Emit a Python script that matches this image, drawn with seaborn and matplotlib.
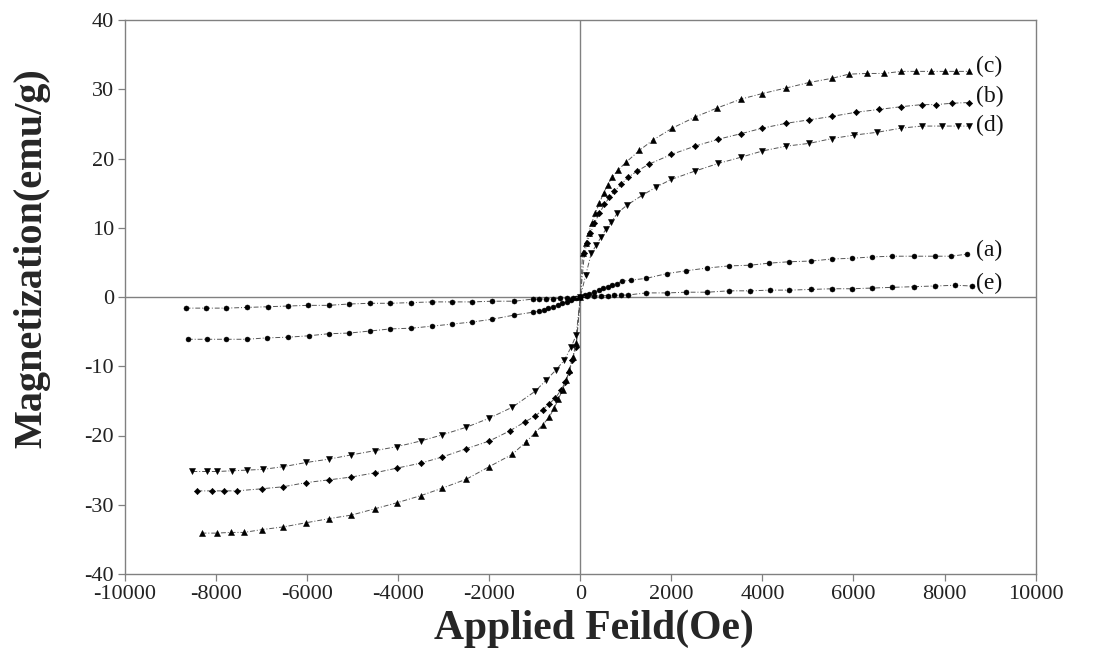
import matplotlib
matplotlib.use('Agg')
import matplotlib.pyplot as plt
import seaborn as sns
import numpy as np
import pandas as pd

# M-H loops, values (field in Oe, magnetization in emu/g)
h_c = [-8320, -7990, -7680, -7390, -7000, -6520, -6020, -5510, -5030, -4520, -4020,
       -3510, -3030, -2500, -2000, -1490, -1190, -990, -830, -680, -570, -480, -390,
       -310, -240, -170, -90, 0, 50, 130, 180, 250, 330, 420, 510, 600, 700, 820, 1010,
       1300, 1600, 2020, 2520, 3000, 3530, 4000, 4520, 5030, 5530, 5900, 6300, 6670,
       7050, 7380, 7700, 8000, 8260, 8540]
m_c = [-34.1, -34.1, -34.0, -34.0, -33.6, -33.2, -32.6, -32.0, -31.5, -30.6, -29.7,
       -28.7, -27.6, -26.3, -24.5, -22.7, -20.9, -19.6, -18.5, -17.3, -16.0, -14.7, -13.4,
       -12.0, -10.5, -8.7, -6.7, 0.0, 6.3, 7.8, 9.2, 10.7, 12.1, 13.6, 15.0, 16.2, 17.3, 18.3, 19.5,
       21.2, 22.7, 24.4, 26.0, 27.3, 28.6, 29.4, 30.2, 31.0, 31.6, 32.2, 32.3, 32.3,
       32.6, 32.6, 32.6, 32.6, 32.6, 32.6]

h_b = [-8410, -8080, -7820, -7550, -7000, -6520, -6020, -5510, -5030, -4520, -4020,
       -3510, -3030, -2500, -2000, -1540, -1210, -990, -830, -680, -550, -420, -330,
       -240, -180, -90, 0, 90, 150, 220, 310, 420, 530, 640, 750, 900, 1050, 1250, 1510,
       2000, 2520, 3030, 3530, 4000, 4520, 5030, 5530, 6060, 6560, 7050, 7500, 7810,
       8170, 8540]
m_b = [-28.0, -28.0, -28.0, -28.0, -27.7, -27.4, -26.8, -26.4, -26.0, -25.4, -24.7,
       -24.0, -23.1, -21.9, -20.8, -19.3, -18.0, -17.2, -16.3, -15.4, -14.6, -13.4, -12.3,
       -10.8, -9.1, -7.2, 0.0, 6.3, 7.8, 9.2, 10.7, 12.1, 13.4, 14.4, 15.3, 16.3, 17.3, 18.2, 19.2,
       20.6, 21.8, 22.8, 23.6, 24.4, 25.1, 25.6, 26.1, 26.7, 27.1, 27.5, 27.8, 27.8,
       28.0, 28.1]

h_d = [-8520, -8210, -7970, -7660, -7330, -6980, -6520, -6020, -5510, -5030, -4520,
       -4020, -3510, -3030, -2500, -2000, -1490, -990, -750, -530, -350, -200, -90, 0,
       120, 240, 350, 460, 570, 680, 810, 1030, 1360, 1670, 2000, 2520, 3030, 3530, 4000,
       4520, 5030, 5530, 6020, 6520, 7050, 7500, 7950, 8300, 8540]
m_d = [-25.2, -25.2, -25.2, -25.1, -25.0, -24.9, -24.5, -23.9, -23.4, -22.8, -22.2,
       -21.6, -20.8, -19.9, -18.8, -17.5, -15.9, -13.6, -12.0, -10.5, -9.1, -7.2, -5.5, 0.0,
       3.2, 6.3, 7.5, 8.7, 9.9, 10.8, 12.1, 13.3, 14.7, 15.9, 17.0, 18.2, 19.3, 20.2, 21.1,
       21.8, 22.2, 22.9, 23.4, 23.8, 24.4, 24.7, 24.7, 24.7, 24.7]

h_a = [-8620, -8190, -7790, -7330, -6890, -6430, -5970, -5530, -5070, -4610, -4170,
       -3710, -3250, -2810, -2370, -1930, -1450, -1050, -900, -800, -700, -600, -500,
       -400, -300, -200, -100, 0, 100, 200, 300, 400, 500, 600, 700, 800, 920, 1120, 1450,
       1910, 2330, 2790, 3270, 3730, 4150, 4590, 5070, 5530, 5970, 6410, 6850, 7330,
       7790, 8140, 8500]
m_a = [-6.1, -6.1, -6.1, -6.1, -5.9, -5.8, -5.6, -5.3, -5.2, -4.9, -4.6,
       -4.5, -4.2, -3.9, -3.6, -3.2, -2.6, -2.2, -2.0, -1.8, -1.6, -1.4, -1.15,
       -0.9, -0.7, -0.45, -0.2, 0.0, 0.25, 0.5, 0.75, 1.0, 1.25, 1.5, 1.75, 1.95, 2.3, 2.45, 2.7,
       3.4, 3.8, 4.2, 4.5, 4.6, 4.9, 5.1, 5.2, 5.5, 5.6, 5.8, 5.9, 5.9,
       5.9, 5.9, 6.2]

h_e = [-8670, -8230, -7790, -7330, -6870, -6430, -5990, -5530, -5070, -4610, -4170,
       -3710, -3250, -2810, -2370, -1930, -1450, -1050, -900, -750, -600, -450, -300,
       -150, 0, 150, 300, 450, 600, 750, 900, 1050, 1450, 1910, 2330, 2790, 3270, 3730,
       4170, 4590, 5070, 5530, 5970, 6410, 6850, 7330, 7790, 8230, 8600]
m_e = [-1.6, -1.6, -1.6, -1.5, -1.4, -1.3, -1.2, -1.2, -1.0, -0.9, -0.9,
       -0.8, -0.7, -0.7, -0.7, -0.6, -0.6, -0.3, -0.28, -0.25, -0.22, -0.2, -0.15,
       -0.1, 0.0, 0.1, 0.15, 0.2, 0.22, 0.25, 0.28, 0.3, 0.6, 0.6, 0.7, 0.7, 0.9, 0.9,
       1.0, 1.0, 1.1, 1.2, 1.2, 1.3, 1.4, 1.5, 1.6, 1.7, 1.6]

curve_names = ['(a)', '(b)', '(c)', '(d)', '(e)']
curve_markers = ['.', 'D', '^', 'v', 'o']
label_y = [6.8, 29.0, 33.3, 24.8, 2.0]

x_ticks = [-10000, -8000, -6000, -4000, -2000, 0, 2000, 4000, 6000, 8000, 10000]
y_ticks = [-40, -30, -20, -10, 0, 10, 20, 30, 40]

fields = [h_a, h_b, h_c, h_d, h_e]
moments = [m_a, m_b, m_c, m_d, m_e]
df = pd.concat([pd.DataFrame({'H': h, 'M': m, 'sample': n})
                for h, m, n in zip(fields, moments, curve_names)], ignore_index=True)

sns.set_style('ticks')
plt.rcParams['font.family'] = ['Liberation Serif', 'DejaVu Serif']
plt.rcParams['axes.unicode_minus'] = False

fig = plt.figure(figsize=(10.97, 6.5), dpi=100)
ax = fig.add_axes([0.114, 0.117, 0.830, 0.852])

ax.axhline(0, color='#808080', lw=1.0, zorder=1)
ax.axvline(0, color='#808080', lw=1.0, zorder=1)

sizes = {'.': 7, 'D': 3.2, '^': 4, 'v': 4, 'o': 3.6}
for name, mk in zip(curve_names, curve_markers):
    sub = df[df['sample'] == name]
    sns.lineplot(data=sub, x='H', y='M', sort=False, estimator=None, ax=ax,
                 color='#555555', lw=0.7, linestyle=(0, (5, 2, 1, 2)),
                 marker=mk, markersize=sizes[mk], markerfacecolor='black',
                 markeredgecolor='black', markeredgewidth=0.4, zorder=3)

for name, yy in zip(curve_names, label_y):
    ax.text(8700, yy, name, fontsize=17, va='center', ha='left', color='#111111')

ax.set_xlim(-10000, 10000)
ax.set_ylim(-40, 40)
ax.set_xticks(x_ticks)
ax.set_yticks(y_ticks)
ax.tick_params(axis='both', direction='out', length=5, width=0.9, color='#808080',
               labelsize=16, labelcolor='#222222', pad=3)
for s in ax.spines.values():
    s.set_color('#808080')
    s.set_linewidth(1.0)

ax.set_xlabel('Applied Feild(Oe)', fontsize=30, fontweight='bold')
ax.set_ylabel('Magnetization(emu/g)', fontsize=29, fontweight='bold')
ax.xaxis.set_label_coords(0.515, -0.065)
ax.yaxis.set_label_coords(-0.082, 0.57)

fig.savefig('out.png', dpi=100)
